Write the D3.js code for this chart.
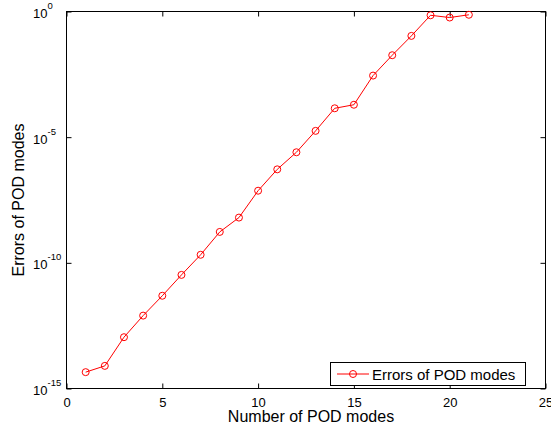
<!DOCTYPE html>
<html>
<head>
<meta charset="utf-8">
<script src="https://cdn.jsdelivr.net/npm/d3@7"></script>
<style>
  html, body { margin: 0; padding: 0; background: #fff; }
  svg { display: block; }
  text { font-family: "Liberation Sans", Arial, sans-serif; fill: #000; }
</style>
</head>
<body>
<svg id="chart" width="551" height="429"></svg>
<script>
// ---- data ----
const modes = [1, 2, 3, 4, 5, 6, 7, 8, 9, 10, 11, 12, 13, 14, 15, 16, 17, 18, 19, 20, 21];
const errors = [4.47e-15, 7.94e-15, 1.10e-13, 7.94e-13, 4.90e-12, 3.31e-11, 2.09e-10, 1.70e-9, 6.31e-9,
                7.41e-8, 5.25e-7, 2.51e-6, 1.78e-5, 1.41e-4, 1.95e-4, 2.82e-3, 1.82e-2, 0.107, 0.708, 0.575, 0.741];
const xTicks = [0, 5, 10, 15, 20, 25];
const yTicks = [1e-15, 1e-10, 1e-5, 1e0];
const yTickExponents = ["-15", "-10", "-5", "0"];
const seriesName = "Errors of POD modes";
const xLabel = "Number of POD modes";
const yLabel = "Errors of POD modes";

// ---- layout ----
const svg = d3.select("#chart");
const L = 66.5, R = 545.5, T = 11.5, B = 388.5;
const x = d3.scaleLinear().domain([0, 25]).range([L, R]);
const y = d3.scaleLog().domain([1e-15, 1]).range([B, T]);

// frame
svg.append("rect").attr("x", L).attr("y", T).attr("width", R - L).attr("height", B - T)
  .attr("fill", "none").attr("stroke", "#000").attr("stroke-width", 1);

// axes (inward ticks)
const tick = 5;
const gx = svg.append("g").attr("transform", `translate(0,${B})`)
  .call(d3.axisBottom(x).tickValues(xTicks).tickSize(-tick).tickPadding(9).tickFormat(d3.format("d")));
const gxt = svg.append("g").attr("transform", `translate(0,${T})`)
  .call(d3.axisTop(x).tickValues(xTicks).tickSize(-tick).tickFormat(""));
const gy = svg.append("g").attr("transform", `translate(${L},0)`)
  .call(d3.axisLeft(y).tickValues(yTicks).tickSize(-tick).tickFormat(""));
const gyr = svg.append("g").attr("transform", `translate(${R},0)`)
  .call(d3.axisRight(y).tickValues(yTicks).tickSize(-tick).tickFormat(""));
[gx, gxt, gy, gyr].forEach(g => {
  g.select(".domain").remove();
  g.selectAll(".tick line").attr("stroke", "#000");
});
gx.selectAll(".tick text").attr("font-size", 13).attr("font-family", "Liberation Sans, Arial, sans-serif").attr("fill", "#000");

// y tick labels with superscripts
yTicks.forEach((v, i) => {
  const t = svg.append("text")
    .attr("x", 33).attr("y", y(v) + 6.5)
    .attr("font-size", 13);
  t.append("tspan").text("10");
  t.append("tspan").attr("font-size", 9.5).attr("dy", -9).text(yTickExponents[i]);
});

// axis labels
svg.append("text").attr("x", 311).attr("y", 422).attr("text-anchor", "middle")
  .attr("font-size", 16).text(xLabel);
svg.append("text").attr("transform", `translate(24,${(T + B) / 2}) rotate(-90)`)
  .attr("text-anchor", "middle").attr("font-size", 16).text(yLabel);

// series
const line = d3.line().x((d, i) => x(modes[i])).y(d => y(d));
svg.append("path").datum(errors).attr("d", line)
  .attr("fill", "none").attr("stroke", "#ff0000").attr("stroke-width", 1);
svg.append("g").selectAll("circle").data(errors).join("circle")
  .attr("cx", (d, i) => x(modes[i])).attr("cy", d => y(d)).attr("r", 3.5)
  .attr("fill", "none").attr("stroke", "#ff0000").attr("stroke-width", 1);

// legend
const lg = svg.append("g");
lg.append("rect").attr("x", 330.5).attr("y", 362.5).attr("width", 195).attr("height", 23)
  .attr("fill", "#fff").attr("stroke", "#000").attr("stroke-width", 1);
lg.append("line").attr("x1", 337).attr("x2", 369).attr("y1", 374).attr("y2", 374)
  .attr("stroke", "#ff0000").attr("stroke-width", 1);
lg.append("circle").attr("cx", 353).attr("cy", 374).attr("r", 3.5)
  .attr("fill", "none").attr("stroke", "#ff0000").attr("stroke-width", 1);
lg.append("text").attr("x", 372).attr("y", 379.5).attr("font-size", 15).text(seriesName);
</script>
</body>
</html>
